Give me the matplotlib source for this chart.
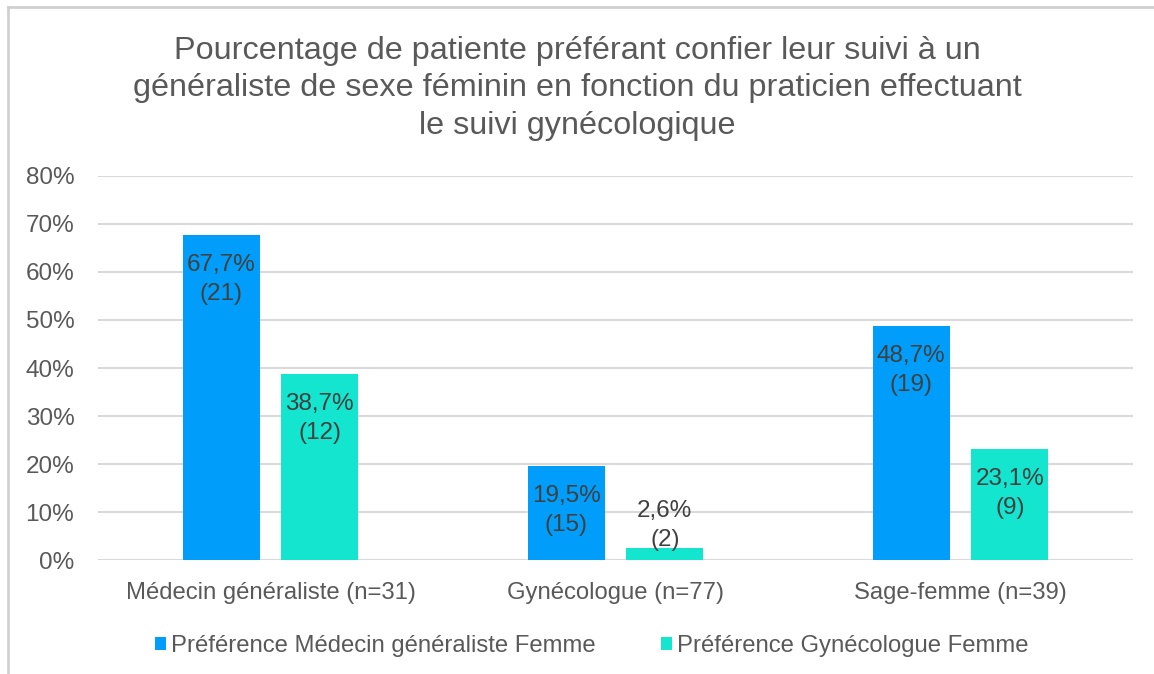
import matplotlib
matplotlib.use("Agg")
import matplotlib.pyplot as plt
import numpy as np
from matplotlib.lines import Line2D

categories = ["Médecin généraliste (n=31)", "Gynécologue (n=77)", "Sage-femme (n=39)"]
series_names = ["Préférence Médecin généraliste Femme", "Préférence Gynécologue Femme"]
pref_mg = [67.7, 19.5, 48.7]
pref_gyn = [38.7, 2.6, 23.1]
counts_mg = [21, 15, 19]
counts_gyn = [12, 2, 9]
yticks = [0, 10, 20, 30, 40, 50, 60, 70, 80]
title = ("Pourcentage de patiente préférant confier leur suivi à un\n"
         "généraliste de sexe féminin en fonction du praticien effectuant\n"
         "le suivi gynécologique")

plt.rcParams['font.family'] = ['Liberation Sans', 'DejaVu Sans']
TXT = "#595959"
LBL = "#404040"
colors = ["#009EFA", "#14E5CF"]

fig = plt.figure(figsize=(11.54, 6.74), dpi=100)
ax = fig.add_axes([0.0849, 0.1691, 0.8969, 0.5698])

x = np.arange(len(categories))
w = 0.223
off = 0.143
bars1 = ax.bar(x - off, pref_mg, w, color=colors[0], label=series_names[0], zorder=3)
bars2 = ax.bar(x + off, pref_gyn, w, color=colors[1], label=series_names[1], zorder=3)

for bars, vals, cnts in [(bars1, pref_mg, counts_mg), (bars2, pref_gyn, counts_gyn)]:
    for b, v, c in zip(bars, vals, cnts):
        ytop = max(v - 3.9, 12.5)
        ax.text(b.get_x() + b.get_width() / 2, ytop,
                f"{v:.1f}%".replace(".", ",") + f"\n({c})",
                ha="center", va="top", fontsize=17.5, color=LBL,
                linespacing=1.4, zorder=4)

ax.set_ylim(0, 80)
ax.set_xlim(-0.5, 2.5)
ax.set_yticks(yticks)
ax.set_yticklabels([f"{t}%" for t in yticks])
ax.set_xticks(x)
ax.set_xticklabels(categories)
ax.tick_params(axis="both", length=0, colors=TXT)
ax.tick_params(axis="y", pad=17, labelsize=17.5)
ax.tick_params(axis="x", pad=16, labelsize=17.2)
ax.grid(axis="y", color="#D9D9D9", linewidth=1.5, zorder=0)
for s in ax.spines.values():
    s.set_visible(False)

fig.text(0.5, 0.947, title, ha="center", va="top", fontsize=23.3, color=TXT,
         linespacing=1.33)

leg = ax.legend(loc="center", bbox_to_anchor=(0.477, -0.224), ncol=2,
                frameon=False, fontsize=17.2, labelcolor=TXT,
                handlelength=0.45, handleheight=0.45, handletextpad=0.2,
                columnspacing=2.75)

fig.add_artist(Line2D([0.007, 0.007], [0, 0.99], transform=fig.transFigure,
                      color="#D0D0D0", linewidth=2))
fig.add_artist(Line2D([0.007, 1.0], [0.99, 0.99], transform=fig.transFigure,
                      color="#D0D0D0", linewidth=2))

fig.savefig("out.png", dpi=100)
